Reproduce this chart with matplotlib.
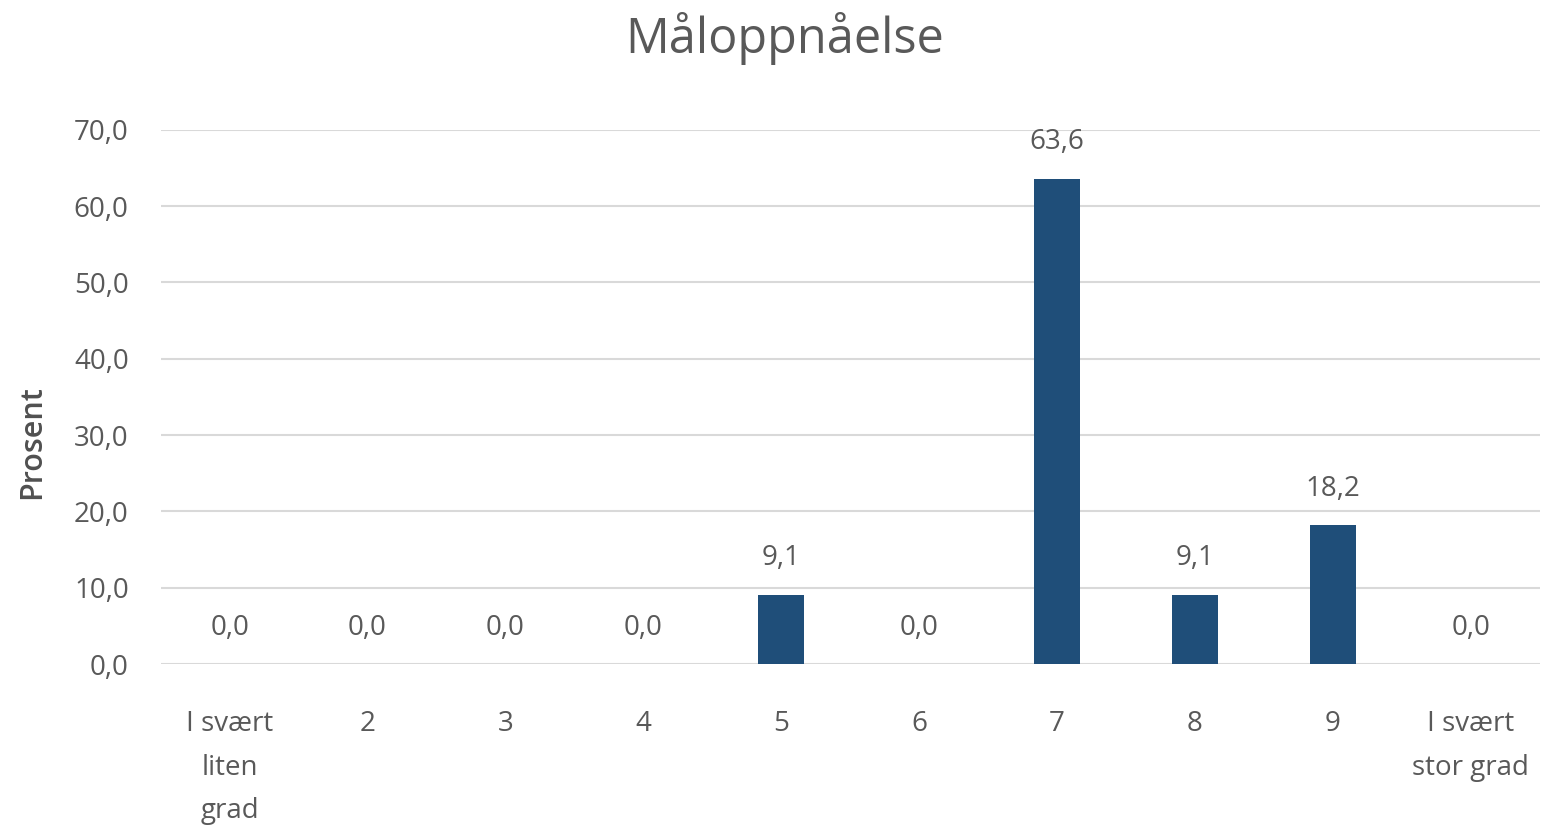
import matplotlib
matplotlib.use("Agg")
import matplotlib.pyplot as plt
import numpy as np

plt.rcParams['font.family'] = ['Open Sans', 'DejaVu Sans']

# Kategorier og prosentverdier
kategorier = ['I svært\nliten\ngrad', '2', '3', '4', '5', '6', '7', '8', '9', 'I svært\nstor grad']
prosent = [0.0, 0.0, 0.0, 0.0, 9.1, 0.0, 63.6, 9.1, 18.2, 0.0]
y_ticks = [0, 10, 20, 30, 40, 50, 60, 70]

tekst_farge = '#595959'
bar_farge = '#1F4E79'

fig = plt.figure(figsize=(15.6, 8.27), dpi=100)
ax = fig.add_axes([0.103, 0.197, 0.884, 0.646])

x = np.arange(len(kategorier))
ax.bar(x, prosent, width=0.33, color=bar_farge, zorder=3)

# Verdietiketter over søylene
for xi, v in zip(x, prosent):
    ax.annotate(f'{v:.1f}'.replace('.', ','), (xi, v), xytext=(0, 16),
                textcoords='offset points', ha='center', va='bottom',
                fontsize=20, color=tekst_farge)

ax.set_xlim(-0.5, len(kategorier) - 0.5)
ax.set_ylim(0, 70)
ax.set_yticks(y_ticks)
ax.set_yticklabels([f'{t:.1f}'.replace('.', ',') for t in y_ticks])
ax.set_xticks(x)
ax.set_xticklabels(kategorier, linespacing=1.75, va='top')

ax.tick_params(axis='both', length=0, labelsize=20, colors=tekst_farge)
ax.tick_params(axis='x', pad=33)
ax.tick_params(axis='y', pad=23)
ax.grid(axis='y', color='#D9D9D9', linewidth=1.5, zorder=0)
for s in ax.spines.values():
    s.set_visible(False)

ax.set_ylabel('Prosent', fontsize=22, color='#505050', fontweight='semibold')
ax.yaxis.set_label_coords(-0.082, 0.415)
fig.suptitle('Måloppnåelse', fontsize=35, color=tekst_farge, x=0.503, y=0.985, va='top')

fig.savefig('out.png', dpi=100)
